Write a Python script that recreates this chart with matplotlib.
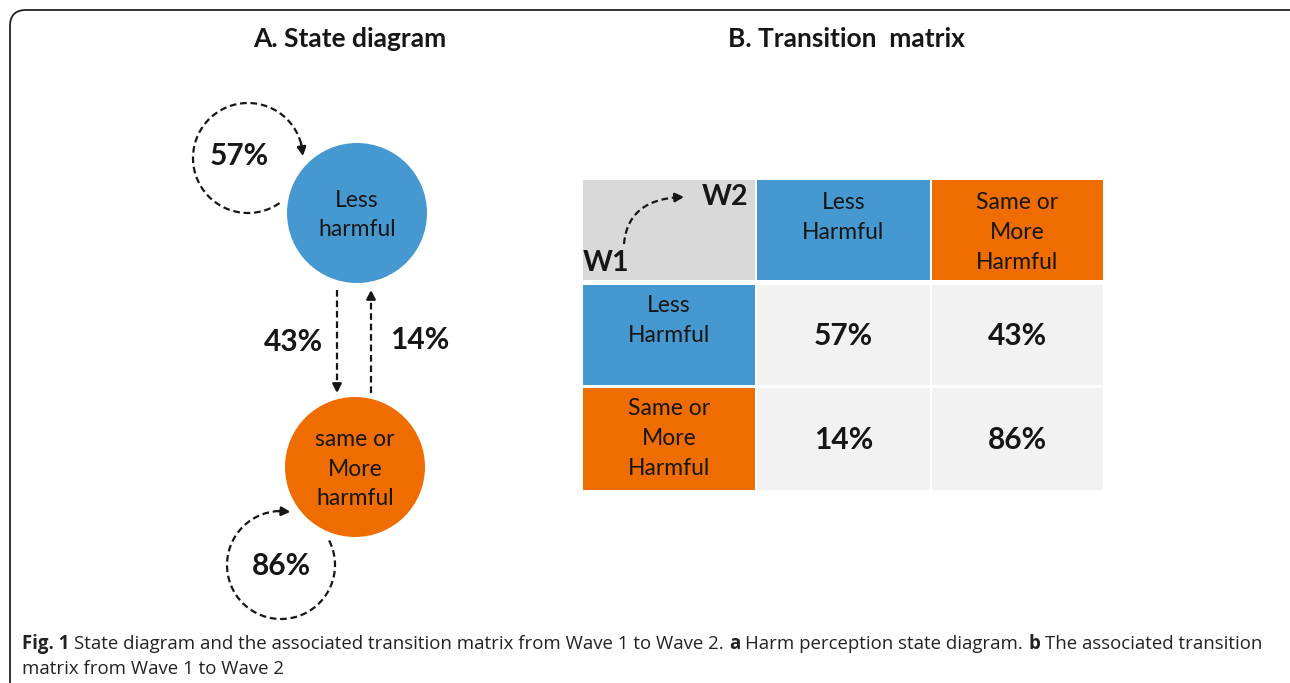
import numpy as np
import matplotlib.pyplot as plt
from matplotlib.patches import Circle, Rectangle, FancyBboxPatch

# data
states = ["Less\nharmful", "same or\nMore\nharmful"]
col_labels = ["Less\nHarmful", "Same or\nMore\nHarmful"]
row_labels = ["Less\nHarmful", "Same or\nMore\nHarmful"]
transition = [[57, 43],
              [14, 86]]
wave_from = "W1"
wave_to = "W2"
title_a = "A. State diagram"
title_b = "B. Transition  matrix"
caption = [("Fig. 1", True),
           ("State diagram and the associated transition matrix from Wave 1 to Wave 2.", False),
           ("a", True), ("Harm perception state diagram.", False),
           ("b", True), ("The associated transition", False)]
caption2 = "matrix from Wave 1 to Wave 2"

BLUE = '#4599d0'
ORANGE = '#ef6c00'
INK = '#161616'
FONT = 'Lato'
LAB = 16.5      # label size in circles / cells
PCT = 21.5      # bold percentages
LSP = 1.52

W, H = 1290, 683
fig = plt.figure(figsize=(W / 100, H / 100), dpi=100)
ax = fig.add_axes([0, 0, 1, 1])
ax.set_xlim(0, W)
ax.set_ylim(H, 0)
ax.axis('off')

# frame with rounded corner
ax.add_patch(FancyBboxPatch((10, 10), 1310, 720, boxstyle="round,pad=0,rounding_size=16",
                            fc='none', ec='#222222', lw=1.3))

ax.text(350, 39, title_a, ha='center', va='center', fontsize=19, fontweight='bold', family=FONT, color=INK)
ax.text(846, 39, title_b, ha='center', va='center', fontsize=19, fontweight='bold', family=FONT, color=INK)

DASH = (0, (3.0, 1.7))


def arrow_head(p_from, p_to):
    ax.annotate('', xy=p_to, xytext=p_from,
                arrowprops=dict(arrowstyle='-|>,head_length=0.5,head_width=0.26',
                                color=INK, lw=1.8, shrinkA=0, shrinkB=0))


def dashed_path(x, y):
    ax.plot(x[:-4], y[:-4], ls=DASH, lw=1.6, color=INK, dash_capstyle='butt')
    arrow_head((x[-6], y[-6]), (x[-1], y[-1]))


def loop(cx, cy, r, a0, a1):
    t = np.radians(np.linspace(a0, a1, 120))
    dashed_path(cx + r * np.cos(t), cy + r * np.sin(t))


# state circles
centers = [(357, 213), (355, 467)]
colors = [BLUE, ORANGE]
for (cx, cy), c, lab in zip(centers, colors, states):
    ax.add_patch(Circle((cx, cy), 70, fc=c, ec='none'))
    ax.text(cx, cy + 2, lab, ha='center', va='center', fontsize=LAB, family=FONT,
            color=INK, linespacing=LSP)

# self loops
loop(248, 158, 55, 55, 358)
loop(281, 565, 54, -27, 280)
ax.text(239, 156, f"{transition[0][0]}%", ha='center', va='center', fontsize=PCT,
        fontweight='bold', family=FONT, color=INK)
ax.text(281, 566, f"{transition[1][1]}%", ha='center', va='center', fontsize=PCT,
        fontweight='bold', family=FONT, color=INK)

# transitions between states
yy = np.linspace(290, 393, 60)
dashed_path(np.full_like(yy, 337), yy)
dashed_path(np.full_like(yy, 371), yy[::-1])
ax.text(293, 342, f"{transition[0][1]}%", ha='center', va='center', fontsize=PCT,
        fontweight='bold', family=FONT, color=INK)
ax.text(420, 340, f"{transition[1][0]}%", ha='center', va='center', fontsize=PCT,
        fontweight='bold', family=FONT, color=INK)

# transition matrix
xs = [(583, 755), (757, 930), (932, 1103)]
ys = [(180, 280), (285, 385), (388, 490)]


def cell(i, j, fc):
    (x0, x1), (y0, y1) = xs[j], ys[i]
    ax.add_patch(Rectangle((x0, y0), x1 - x0, y1 - y0, fc=fc, ec='none'))


cell(0, 0, '#d9d9d9')
for k in range(2):
    cell(0, k + 1, colors[k])
    cell(k + 1, 0, colors[k])
    for m in range(2):
        cell(k + 1, m + 1, '#f2f2f2')

for k in range(2):
    xc = sum(xs[k + 1]) / 2
    ax.text(xc, 192, col_labels[k], ha='center', va='top', fontsize=LAB, family=FONT,
            color=INK, linespacing=LSP)
    xr = sum(xs[0]) / 2
    ax.text(xr, ys[k + 1][0] + 10, row_labels[k], ha='center', va='top', fontsize=LAB,
            family=FONT, color=INK, linespacing=LSP)
    for m in range(2):
        ax.text(sum(xs[m + 1]) / 2, sum(ys[k + 1]) / 2 + 1, f"{transition[k][m]}%",
                ha='center', va='center', fontsize=PCT, fontweight='bold', family=FONT, color=INK)

ax.text(725, 197, wave_to, ha='center', va='center', fontsize=20.5, fontweight='bold', family=FONT, color=INK)
ax.text(606, 263, wave_from, ha='center', va='center', fontsize=20.5, fontweight='bold', family=FONT, color=INK)
s = np.linspace(0, 1, 60)
p0, p1, p2 = np.array([624, 244]), np.array([628, 198]), np.array([684, 197])
bez = ((1 - s) ** 2)[:, None] * p0 + (2 * (1 - s) * s)[:, None] * p1 + (s ** 2)[:, None] * p2
dashed_path(bez[:, 0], bez[:, 1])

# caption
fig.canvas.draw()
rend = fig.canvas.get_renderer()
cap_size = 13.4
x = 22
for txt, bold in caption:
    t = ax.text(x, 649, txt, fontsize=cap_size, family='Open Sans', color='#222222',
                fontweight='bold' if bold else 'normal', va='baseline')
    x += t.get_window_extent(renderer=rend).width + 0.27 * cap_size * 100 / 72
ax.text(22, 674, caption2, fontsize=cap_size, family='Open Sans', color='#222222', va='baseline')

fig.savefig('out.png', dpi=100)
